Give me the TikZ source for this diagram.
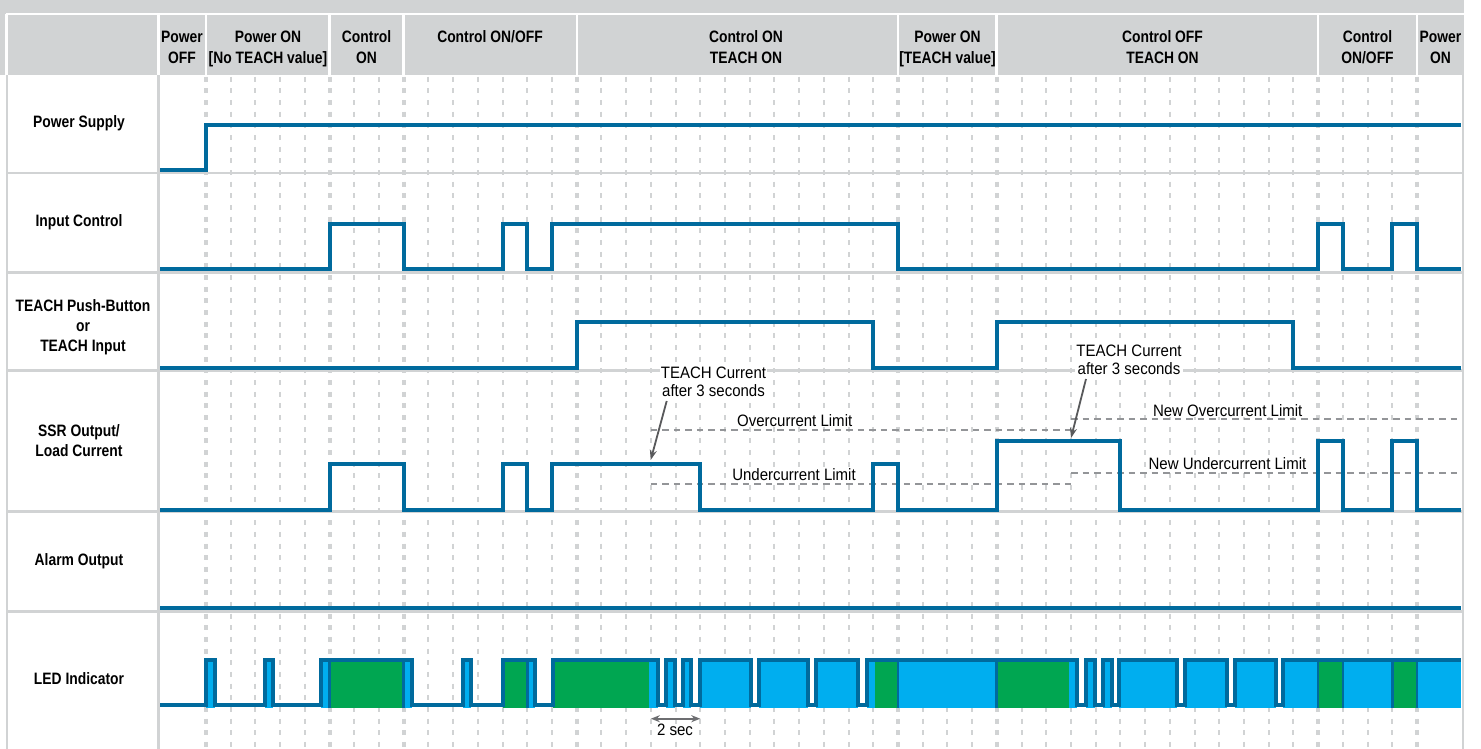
\documentclass[tikz,border=0pt]{standalone}
\usepackage{fontspec}
\setmainfont{Liberation Sans}
\newfontfamily\hb{Liberation Sans}[FakeStretch=0.84]
\newfontfamily\hr{Liberation Sans}[FakeStretch=0.91]
\usetikzlibrary{arrows.meta}
\definecolor{sig}{HTML}{006A9D}
\definecolor{ledb}{HTML}{00AEEF}
\definecolor{ledg}{HTML}{00A651}
\definecolor{frame}{HTML}{D1D3D4}
\definecolor{lim}{HTML}{939598}
\definecolor{note}{HTML}{58595B}
\definecolor{secc}{HTML}{6D6E71}
\begin{document}
\begin{tikzpicture}[x=1pt,y=-1pt,
  sigline/.style={draw=sig,line width=4pt,line join=miter,line cap=butt},
  gridline/.style={draw=frame,line width=2pt,dash pattern=on 5pt off 6.67pt},
  gridheavy/.style={draw=frame,line width=4pt,dash pattern=on 5pt off 6.67pt},
  sepline/.style={draw=frame,line width=2.5pt},
  hdrsep/.style={draw=white,line width=2.5pt},
  hdrtext/.style={font=\hb\bfseries\fontsize{16.5}{20.5}\selectfont,align=center,anchor=base,inner sep=0pt},
  rowlabel/.style={font=\hb\bfseries\fontsize{16.5}{19.7}\selectfont,align=center,anchor=base,inner sep=0pt},
  limline/.style={draw=lim,line width=1.5pt,dash pattern=on 6.5pt off 5pt},
  limtext/.style={font=\hr\fontsize{16.5}{17.7}\selectfont,fill=white,inner sep=1pt,anchor=base,align=center},
  notearrow/.style={draw=note,line width=1.8pt,-{Stealth[length=10pt,width=7pt]}},
  secarrow/.style={draw=secc,line width=2pt,{Stealth[length=9pt,width=7pt]}-{Stealth[length=9pt,width=7pt]}},
  ledseg/.style={draw=sig,line width=2.5pt},
]
\useasboundingbox (0,0) rectangle (1481,749);
\fill[white] (0,0) rectangle (1481,749);
% grid
\foreach \k in {0,...,49} {\draw[gridline] ({206+24.714*\k},76.7) -- ({206+24.714*\k},749);}
\foreach \k in {0,5,8,15,28,32,45,49} {\draw[gridheavy] ({206+24.714*\k},76.7) -- ({206+24.714*\k},749);}
% frame
\foreach \y in {173,272.5,370.7,511.5,611.7} {\draw[sepline] (7,\y) -- (1464,\y);}
\draw[sepline] (7,75) -- (7,749);
\draw[sepline] (158.5,75) -- (158.5,749);
\draw[sepline] (1463,75) -- (1463,749);
% header
\fill[frame] (0,0) rectangle (1464,75);
\draw[hdrsep] (6,14) -- (1464,14);
\foreach \x in {6.5,158.5,206,329.6,403.7,577,898,996.7,1318.1,1417} {\draw[hdrsep] (\x,14) -- (\x,75);}
\node[hdrtext] (hPoff) at (182,63.3) {Power\\OFF};
\node[hdrtext] (hPon) at (268,63.3) {Power ON\\{[No TEACH value]}};
\node[hdrtext] (hCon) at (366.6,63.3) {Control\\ON};
\node[hdrtext] (hConoff) at (490,42.7) {Control ON/OFF};
\node[hdrtext] (hConTon) at (746,63.3) {Control ON\\TEACH ON};
\node[hdrtext] (hPonT) at (947.5,63.3) {Power ON\\{[TEACH value]}};
\node[hdrtext] (hCoffTon) at (1162.5,63.3) {Control OFF\\TEACH ON};
\node[hdrtext] (hConoffb) at (1367.5,63.3) {Control\\ON/OFF};
\node[hdrtext] (hPonb) at (1440.5,63.3) {Power\\ON};
% row labels
\node[rowlabel] (lPS) at (79,128) {Power Supply};
\node[rowlabel] (lIC) at (79,226) {Input Control};
\node[rowlabel] (lTB) at (83,351) {TEACH Push-Button\\or\\TEACH Input};
\node[rowlabel] (lSSR) at (79,456) {SSR Output/\\Load Current};
\node[rowlabel] (lAO) at (79,565) {Alarm Output};
\node[rowlabel] (lLED) at (79,684) {LED Indicator};
% limit lines
\draw[limline] ({206+24.714*18},430) -- ({206+24.714*35},430);
\draw[limline] ({206+24.714*18},484) -- ({206+24.714*35},484);
\draw[limline] ({206+24.714*35},419) -- (1461,419);
\draw[limline] ({206+24.714*35},473) -- (1461,473);
\node[limtext] (tOC) at (794.7,426) {Overcurrent Limit};
\node[limtext] (tUC) at (794,480.7) {Undercurrent Limit};
\node[limtext] (tNOC) at (1227.7,416) {New Overcurrent Limit};
\node[limtext] (tNUC) at (1227.5,469.3) {New Undercurrent Limit};
% signals
\draw[sigline] (160,170.3) -- (206,170.3) -- (206,125) -- (1461,125);
\draw[sigline] (160,269.3)
  -| ({206+24.714*5},224) -| ({206+24.714*8},269.3)
  -| ({206+24.714*12},224) -| ({206+24.714*13},269.3)
  -| ({206+24.714*14},224) -| ({206+24.714*28},269.3)
  -| ({206+24.714*45},224) -| ({206+24.714*46},269.3)
  -| ({206+24.714*48},224) -| ({206+24.714*49},269.3) -- (1461,269.3);
\draw[sigline] (160,368.3)
  -| ({206+24.714*15},322.3) -| ({206+24.714*27},368.3)
  -| ({206+24.714*32},322.3) -| ({206+24.714*44},368.3) -- (1461,368.3);
\draw[sigline] (160,509.7)
  -| ({206+24.714*5},463.8) -| ({206+24.714*8},509.7)
  -| ({206+24.714*12},463.8) -| ({206+24.714*13},509.7)
  -| ({206+24.714*14},463.8) -| ({206+24.714*20},509.7)
  -| ({206+24.714*27},463.8) -| ({206+24.714*28},509.7)
  -| ({206+24.714*32},440.7) -| ({206+24.714*37},509.7)
  -| ({206+24.714*45},440.7) -| ({206+24.714*46},509.7)
  -| ({206+24.714*48},440.7) -| ({206+24.714*49},509.7) -- (1461,509.7);
\draw[sigline] (160,608.3) -- (1461,608.3);
% LED indicator
\foreach \a/\b in {206.3/214.7, 265/273, 321/412, 463/471, 502.7/535.3, 552.7/658, 666/675, 683/691, 700/751, 759/808, 816/858, 867/1077, 1086/1095, 1103/1112, 1119/1177, 1185/1227, 1235/1276, 1283/1461}
  {\fill[ledb] (\a,660.4) rectangle (\b,707.5);}
\foreach \a/\b in {329.6/403.7, 502.7/527.3, 552.7/649, 875/898, 996.7/1069, 1318.1/1342.8, 1392.3/1417}
  {\fill[ledg] (\a,660.4) rectangle (\b,707.5);}
\foreach \x in {329.6,403.7,527.3,898,996.7,1318.1,1342.8,1392.3,1417}
  {\draw[ledseg] (\x,660.4) -- (\x,707.5);}
\draw[sigline] (160,705.3)
  foreach \a/\b in {206.3/214.7, 265/273, 321/412, 463/471, 502.7/535.3, 552.7/658, 666/675, 683/691, 700/751, 759/808, 816/858, 867/1077, 1086/1095, 1103/1112, 1119/1177, 1185/1227, 1235/1276}
  { -- (\a,705.3) -- (\a,660.4) -- (\b,660.4) -- (\b,705.3) }
  -- (1283,705.3) -- (1283,660.4) -- (1461,660.4);
% TEACH current notes
\node[limtext] (tc1) at (713.5,396) {TEACH Current\\after 3 seconds};
\node[limtext] (tc2) at (1129,374) {TEACH Current\\after 3 seconds};
\coordinate (a1s) at (666.7,401);
\coordinate (a1e) at (650.7,460);
\coordinate (a2s) at (1086,379);
\coordinate (a2e) at (1071,438);
\draw[notearrow] (a1s) -- (a1e);
\draw[notearrow] (a2s) -- (a2e);
% 2 sec
\coordinate (s1) at ({206+24.714*18},718.7);
\coordinate (s2) at ({206+24.714*20},718.7);
\draw[secarrow] (s1) -- (s2);
\node[limtext,fill=none] (t2s) at (675,735) {2 sec};
\end{tikzpicture}
\end{document}
